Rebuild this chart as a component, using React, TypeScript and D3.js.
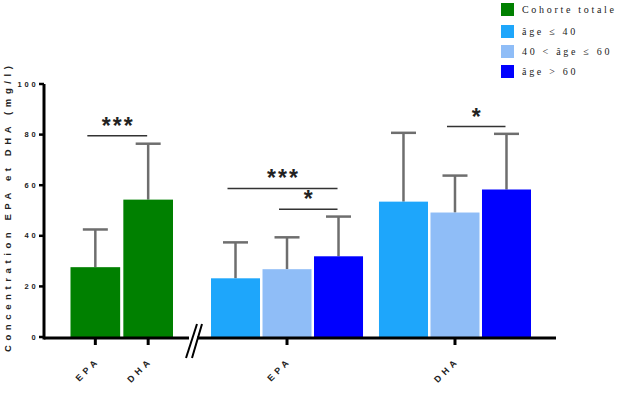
import React from "react";
import * as d3 from "d3";

const totalCats = ["EPA", "DHA"];
const totalMeans = [27.6, 54.3];
const totalErrs = [14.9, 22.1];

const ageGroups = ["EPA", "DHA"];
const ageLabels = ["âge ≤ 40", "40 < âge ≤ 60", "âge > 60"];
const ageMeansEPA = [23.2, 26.8, 31.9];
const ageErrsEPA = [14.2, 12.6, 15.7];
const ageMeansDHA = [53.5, 49.2, 58.3];
const ageErrsDHA = [27.2, 14.6, 22.0];

const yTicks = [0, 20, 40, 60, 80, 100];
const legendLabels = ["Cohorte totale", "âge ≤ 40", "40 < âge ≤ 60", "âge > 60"];

const GREEN = "#008000";
const AGE_COLORS = ["#1EA6FB", "#8FBDF7", "#0000FF"];
const LEGEND_COLORS = [GREEN, ...AGE_COLORS];
const ERR = "#6e6e6e";

export default function App() {
  const W = 619, H = 404;
  const y = d3.scaleLinear().domain([0, 100]).range([337, 84]);
  const xTotal = d3.scaleBand<string>().domain(totalCats).range([70.5, 173]).paddingInner(0.06);
  const xGroup = d3.scaleBand<string>().domain(ageGroups).range([211, 531]).paddingInner(0.095);
  const xAge = d3.scaleBand<string>().domain(ageLabels).range([0, xGroup.bandwidth()]).paddingInner(0.0485);

  const bars: { x: number; w: number; v: number; e: number; c: string }[] = [];
  totalCats.forEach((c, i) =>
    bars.push({ x: xTotal(c)!, w: xTotal.bandwidth(), v: totalMeans[i], e: totalErrs[i], c: GREEN })
  );
  const ageData = [
    [ageMeansEPA, ageErrsEPA],
    [ageMeansDHA, ageErrsDHA],
  ];
  ageGroups.forEach((g, gi) =>
    ageLabels.forEach((a, ai) =>
      bars.push({
        x: xGroup(g)! + xAge(a)!,
        w: xAge.bandwidth(),
        v: ageData[gi][0][ai],
        e: ageData[gi][1][ai],
        c: AGE_COLORS[ai],
      })
    )
  );
  const center = (i: number) => bars[i].x + bars[i].w / 2;

  const sig = [
    { a: 0, b: 1, v: 79.5, label: "***" },
    { a: 2, b: 4, v: 58.7, label: "***" },
    { a: 3, b: 4, v: 50.5, label: "*" },
    { a: 6, b: 7, v: 83.2, label: "*" },
  ];

  const xTicks = [
    { x: xTotal("EPA")! + xTotal.bandwidth() / 2, label: "EPA" },
    { x: xTotal("DHA")! + xTotal.bandwidth() / 2, label: "DHA" },
    { x: xGroup("EPA")! + xGroup.bandwidth() / 2, label: "EPA" },
    { x: xGroup("DHA")! + xGroup.bandwidth() / 2, label: "DHA" },
  ];

  const axisY = y(0) + 1;
  const sans = "Liberation Sans, Arial, sans-serif";
  const digitStep = 7;

  return (
    <svg width={W} height={H} style={{ position: "absolute", left: 0, top: 0 }}>
      <rect width={W} height={H} fill="#fff" />
      {bars.map((b, i) => (
        <g key={i}>
          <line x1={b.x + b.w / 2} x2={b.x + b.w / 2} y1={y(b.v)} y2={y(b.v + b.e)} stroke={ERR} strokeWidth={2.5} />
          <line x1={b.x + b.w / 2 - 12.5} x2={b.x + b.w / 2 + 12.5} y1={y(b.v + b.e)} y2={y(b.v + b.e)} stroke={ERR} strokeWidth={2.5} />
          <rect x={b.x} y={y(b.v)} width={b.w} height={y(0) - y(b.v)} fill={b.c} />
        </g>
      ))}
      {sig.map((s, i) => {
        const x1 = center(s.a) - 8, x2 = center(s.b) - 1;
        return (
          <g key={i}>
            <line x1={x1} x2={x2} y1={y(s.v)} y2={y(s.v)} stroke="#333" strokeWidth={1.5} />
            <text x={(x1 + x2) / 2 + 1} y={y(s.v) - 2} textAnchor="middle" fontFamily={sans} fontWeight="bold" fontSize={23} style={{ letterSpacing: "2px" }} fill="#222">
              {s.label}
            </text>
          </g>
        );
      })}
      {/* axes */}
      <line x1={44} x2={44} y1={y(100)} y2={axisY + 1.5} stroke="#000" strokeWidth={3} />
      <line x1={44} x2={556} y1={axisY} y2={axisY} stroke="#000" strokeWidth={3} />
      {yTicks.map((t) => {
        const s = String(t).split("");
        return (
          <g key={t}>
            <line x1={39} x2={44} y1={y(t)} y2={y(t)} stroke="#000" strokeWidth={2.5} />
            {s.map((ch, k) => (
              <text
                key={k}
                x={33.5 - (s.length - 1 - k) * digitStep}
                y={y(t) + 2.5}
                textAnchor="middle"
                fontFamily={sans}
                fontWeight="bold"
                fontSize={7.5}
                fill="#222"
              >
                {ch}
              </text>
            ))}
          </g>
        );
      })}
      {xTicks.map((t, i) => (
        <g key={i}>
          <line x1={t.x} x2={t.x} y1={axisY} y2={axisY + 7} stroke="#000" strokeWidth={3} />
          <text
            transform={`translate(${t.x + 5},${361}) rotate(-45)`}
            textAnchor="end"
            fontFamily={sans}
            fontWeight="bold"
            fontSize={9}
            style={{ letterSpacing: "4px" }}
            fill="#222"
          >
            {t.label}
          </text>
        </g>
      ))}
      {/* axis break */}
      <rect x={189} y={axisY - 2} width={8} height={4} fill="#fff" />
      <line x1={186} x2={197} y1={358} y2={324} stroke="#000" strokeWidth={2} />
      <line x1={192} x2={202} y1={358} y2={324} stroke="#000" strokeWidth={2} />
      {/* y title */}
      <text
        transform={`translate(11,352) rotate(-90)`}
        textAnchor="start"
        fontFamily={sans}
        fontWeight="bold"
        fontSize={9.5}
        style={{ letterSpacing: "4.6px" }}
        fill="#222"
      >
        Concentration EPA et DHA (mg/l)
      </text>
      {/* legend */}
      {legendLabels.map((l, i) => {
        const ys = [3, 25, 45, 65][i];
        return (
          <g key={i}>
            <rect x={501} y={ys} width={13} height={13} fill={LEGEND_COLORS[i]} />
            <text x={522} y={ys + 10} fontFamily="Liberation Serif, Times New Roman, serif" fontSize={10} style={{ letterSpacing: "2.7px" }} fill="#222">
              {l}
            </text>
          </g>
        );
      })}
    </svg>
  );
}
